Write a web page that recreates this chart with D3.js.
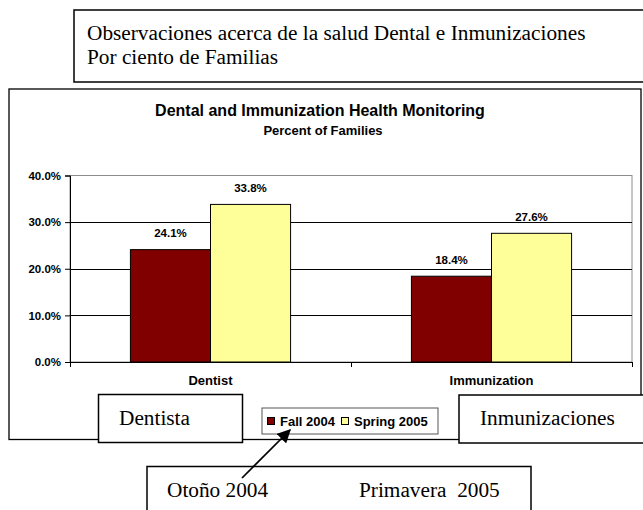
<!DOCTYPE html>
<html>
<head>
<meta charset="utf-8">
<script src="https://cdn.jsdelivr.net/npm/d3@7"></script>
<style>
  body { margin: 0; background: #fff; }
  svg { display: block; }
  .sans { font-family: "Liberation Sans", Arial, sans-serif; font-weight: bold; fill: #000; }
  .serif { font-family: "Liberation Serif", "Times New Roman", serif; fill: #000; white-space: pre; }
</style>
</head>
<body>
<svg width="643" height="510"></svg>
<script>
const categories = ["Dentist", "Immunization"];
const seriesNames = ["Fall 2004", "Spring 2005"];
const fall2004 = [24.1, 18.4];
const spring2005 = [33.8, 27.6];
const yTicks = [0, 10, 20, 30, 40];
const seriesColors = ["#800000", "#FFFF99"];

const svg = d3.select("svg");
const serifSize = 21.3;

// top note box (Spanish)
svg.append("rect")
  .attr("x", 74).attr("y", 10).attr("width", 580).attr("height", 72)
  .attr("fill", "#fff").attr("stroke", "#000").attr("stroke-width", 1.5);
svg.append("text").attr("class", "serif")
  .attr("x", 87).attr("y", 40).attr("font-size", serifSize)
  .text("Observaciones acerca de la salud Dental e Inmunizaciones");
svg.append("text").attr("class", "serif")
  .attr("x", 87).attr("y", 64).attr("font-size", serifSize)
  .text("Por ciento de Familias");

// chart frame
svg.append("rect")
  .attr("x", 9).attr("y", 89).attr("width", 632).attr("height", 350.5)
  .attr("fill", "#fff").attr("stroke", "#000").attr("stroke-width", 1.3);

svg.append("text").attr("class", "sans")
  .attr("x", 320).attr("y", 116).attr("text-anchor", "middle")
  .attr("font-size", 16)
  .text("Dental and Immunization Health Monitoring");
svg.append("text").attr("class", "sans")
  .attr("x", 323).attr("y", 135).attr("text-anchor", "middle")
  .attr("font-size", 13)
  .text("Percent of Families");

const plot = { left: 70, right: 632, top: 175.5, bottom: 362 };

const yScale = d3.scaleLinear()
  .domain([0, 40])
  .range([plot.bottom, plot.top]);

const xScale = d3.scaleBand()
  .domain(categories)
  .range([plot.left, plot.right])
  .paddingInner(0.43)
  .paddingOuter(0.215);

const xSub = d3.scaleBand()
  .domain(seriesNames)
  .range([0, xScale.bandwidth()]);

const g = svg.append("g");

// plot area border
g.append("rect")
  .attr("x", plot.left).attr("y", plot.top)
  .attr("width", plot.right - plot.left).attr("height", plot.bottom - plot.top)
  .attr("fill", "none").attr("stroke", "#8c8c8c").attr("stroke-width", 1);

// gridlines
g.selectAll(".grid")
  .data(yTicks.filter((d) => d > 0 && d < 40))
  .enter()
  .append("line")
  .attr("x1", plot.left).attr("x2", plot.right)
  .attr("y1", (d) => Math.round(yScale(d)) + 0.5)
  .attr("y2", (d) => Math.round(yScale(d)) + 0.5)
  .attr("stroke", "#000").attr("stroke-width", 1);

// bars
const rows = categories.map((c, i) => ({
  category: c,
  values: [
    { series: seriesNames[0], value: fall2004[i] },
    { series: seriesNames[1], value: spring2005[i] },
  ],
}));

const color = d3.scaleOrdinal().domain(seriesNames).range(seriesColors);

const groups = g.selectAll(".cat")
  .data(rows)
  .enter()
  .append("g")
  .attr("transform", (d) => `translate(${xScale(d.category)},0)`);

groups.selectAll("rect")
  .data((d) => d.values)
  .enter()
  .append("rect")
  .attr("x", (d) => xSub(d.series))
  .attr("y", (d) => yScale(d.value))
  .attr("width", xSub.bandwidth())
  .attr("height", (d) => plot.bottom - yScale(d.value))
  .attr("fill", (d) => color(d.series))
  .attr("stroke", "#000")
  .attr("stroke-width", 1);

groups.selectAll(".val")
  .data((d) => d.values)
  .enter()
  .append("text")
  .attr("class", "sans")
  .attr("font-size", 11.5)
  .attr("text-anchor", "middle")
  .attr("x", (d) => xSub(d.series) + xSub.bandwidth() / 2)
  .attr("y", (d) => yScale(d.value) - 12.5)
  .text((d) => d.value.toFixed(1) + "%");

// y axis
const yAxis = d3.axisLeft(yScale)
  .tickValues(yTicks)
  .tickSize(5)
  .tickPadding(4)
  .tickFormat((d) => d.toFixed(1) + "%");

const yAxisG = g.append("g")
  .attr("transform", `translate(${plot.left},0)`)
  .call(yAxis);
yAxisG.select(".domain").attr("stroke", "#000");
yAxisG.selectAll(".tick line").attr("stroke", "#000");
yAxisG.selectAll(".tick text")
  .attr("class", "sans")
  .attr("font-size", 11.5)
  .attr("font-family", null);

// x axis: ticks between categories, labels at centers
const xTickScale = d3.scaleLinear()
  .domain([0, categories.length])
  .range([plot.left, plot.right]);

const xAxisG = g.append("g")
  .attr("transform", `translate(0,${plot.bottom})`)
  .call(d3.axisBottom(xTickScale).ticks(categories.length).tickSize(5).tickFormat(""));
xAxisG.select(".domain").attr("stroke", "#000");
xAxisG.selectAll(".tick line").attr("stroke", "#000");

g.selectAll(".catLabel")
  .data(categories)
  .enter()
  .append("text")
  .attr("class", "sans")
  .attr("font-size", 13)
  .attr("text-anchor", "middle")
  .attr("x", (d) => xScale(d) + xScale.bandwidth() / 2)
  .attr("y", 385)
  .text((d) => d);

// legend
const legend = svg.append("g").attr("transform", "translate(262,408)");
legend.append("rect")
  .attr("width", 176).attr("height", 26)
  .attr("fill", "#fff").attr("stroke", "#555").attr("stroke-width", 1);
const legendX = [5.5, 79.5];
seriesNames.forEach((s, i) => {
  legend.append("rect")
    .attr("x", legendX[i]).attr("y", 9.5).attr("width", 7).attr("height", 7)
    .attr("fill", color(s)).attr("stroke", "#000").attr("stroke-width", 1);
  legend.append("text").attr("class", "sans")
    .attr("x", legendX[i] + 12.5).attr("y", 17.5)
    .attr("font-size", 13)
    .text(s);
});

// Spanish label boxes
const noteBox = (x, y, w, h, label, tx, ty) => {
  svg.append("rect")
    .attr("x", x).attr("y", y).attr("width", w).attr("height", h)
    .attr("fill", "#fff").attr("stroke", "#000").attr("stroke-width", 1.5);
  svg.append("text").attr("class", "serif")
    .attr("x", tx).attr("y", ty).attr("font-size", serifSize)
    .text(label);
};
noteBox(98.5, 394.5, 144, 48, "Dentista", 119, 425);
noteBox(459, 395, 200, 48, "Inmunizaciones", 480, 424.5);

svg.append("rect")
  .attr("x", 147).attr("y", 466.5).attr("width", 384).attr("height", 60)
  .attr("fill", "#fff").attr("stroke", "#000").attr("stroke-width", 1.5);
svg.append("text").attr("class", "serif")
  .attr("x", 167).attr("y", 497).attr("font-size", serifSize)
  .text("Otoño 2004");
svg.append("text").attr("class", "serif")
  .attr("x", 359).attr("y", 497).attr("font-size", serifSize)
  .text("Primavera  2005");

// arrow to legend
svg.append("defs").append("marker")
  .attr("id", "head")
  .attr("viewBox", "0 0 10 10")
  .attr("refX", 9).attr("refY", 5)
  .attr("markerWidth", 8.5).attr("markerHeight", 8)
  .attr("markerUnits", "strokeWidth")
  .attr("orient", "auto")
  .append("path")
  .attr("d", "M0,0 L10,5 L0,10 Z")
  .attr("fill", "#000");
svg.append("line")
  .attr("x1", 242).attr("y1", 478)
  .attr("x2", 290).attr("y2", 430)
  .attr("stroke", "#000").attr("stroke-width", 1.7)
  .attr("marker-end", "url(#head)");
</script>
</body>
</html>
